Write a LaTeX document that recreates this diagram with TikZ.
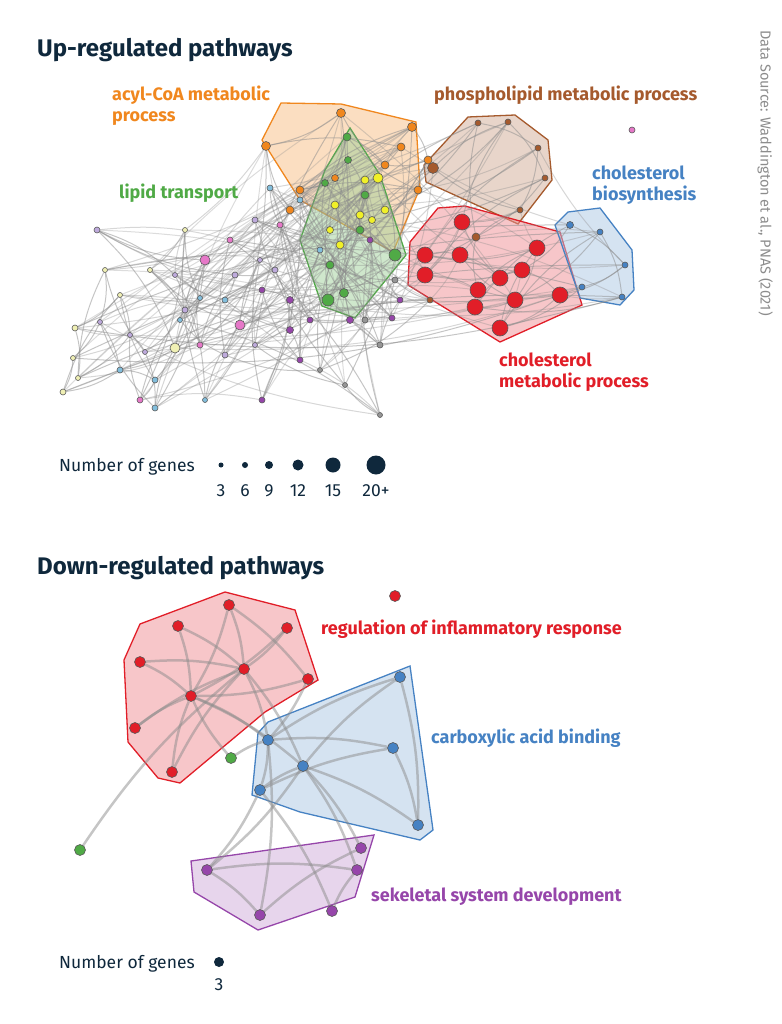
\documentclass[tikz,border=0pt]{standalone}
\usepackage{fontspec}
\setmainfont{Fira Sans}
\usetikzlibrary{calc}
\pgfdeclarelayer{hull}\pgfdeclarelayer{edges}
\pgfsetlayers{hull,edges,main}
\definecolor{navy}{RGB}{15,40,60}
\definecolor{cor}{RGB}{240,135,30}
\definecolor{cgr}{RGB}{80,170,70}
\definecolor{cbr}{RGB}{165,90,45}
\definecolor{crd}{RGB}{225,30,40}
\definecolor{cbl}{RGB}{70,130,195}
\definecolor{cpu}{RGB}{150,70,170}
\definecolor{cye}{RGB}{240,240,40}
\definecolor{cpy}{RGB}{240,240,180}
\definecolor{clb}{RGB}{130,190,220}
\definecolor{cli}{RGB}{190,170,220}
\definecolor{cpk}{RGB}{230,120,200}
\definecolor{cgy}{RGB}{150,150,150}
\tikzset{gn/.style={circle,draw=black!65,line width=.6pt,inner sep=0pt,minimum size=#1},
 ed/.style={draw=black!45,opacity=.5,line width=1pt},
 hl/.style={line width=1.3pt,fill opacity=.5,draw opacity=1},
 lab/.style={font=\bfseries\fontsize{18}{21}\selectfont,align=left,anchor=north west,inner sep=0pt},
 ttl/.style={font=\bfseries\fontsize{24}{28}\selectfont,text=navy,anchor=north west,inner sep=0pt},
 leg/.style={font=\fontsize{17.5}{20}\selectfont,text=navy,inner sep=0pt}}
\begin{document}
\begin{tikzpicture}[x=1pt,y=-1pt]
\useasboundingbox (0,0) rectangle (781,1024);
\node[ttl] (t1) at (37,38) {Up-regulated pathways};
\node[ttl] (t2) at (37,556) {Down-regulated pathways};
\node[rotate=-90,anchor=north west,text=black!45,font=\fontsize{14.5}{16}\selectfont,inner sep=0pt] (src) at (773,30) {Data Source: Waddington et al., PNAS (2021)};
% hulls
\begin{pgfonlayer}{hull}
\draw[hl,draw=cor,fill=cor!55] (262,140)--(281,103)--(341,104)--(416,122)--(420,188)--(393,252)--(300,200)--cycle;
\draw[hl,draw=cgr,fill=cgr!55] (325,170)--(350,128)--(380,175)--(406,255)--(355,318)--(322,306)--(300,240)--cycle;
\draw[hl,draw=cbr,fill=cbr!50] (424,165)--(468,117)--(515,115)--(548,140)--(552,180)--(518,224)--(470,202)--(426,182)--cycle;
\draw[hl,draw=crd,fill=crd!50] (410,242)--(438,208)--(465,206)--(560,232)--(582,305)--(500,342)--(408,285)--cycle;
\draw[hl,draw=cbl,fill=cbl!45] (555,225)--(568,212)--(600,208)--(632,250)--(634,290)--(620,305)--(580,298)--cycle;
\draw[hl,draw=crd,fill=crd!50] (124,660)--(140,624)--(225,592)--(295,610)--(318,680)--(265,712)--(180,783)--(158,778)--(128,742)--cycle;
\draw[hl,draw=cbl,fill=cbl!45] (258,733)--(268,722)--(410,666)--(433,830)--(420,840)--(300,812)--(252,795)--cycle;
\draw[hl,draw=cpu,fill=cpu!45] (191,861)--(374,835)--(355,897)--(258,930)--(194,892)--cycle;
\end{pgfonlayer}
% up network nodes
\foreach \x/\y/\c/\s [count=\k] in {
75/328/cpy/6,73/358/cpy/5,78/378/cpy/5,63/392/cpy/6,105/270/cpy/5,120/295/cpy/5,100/322/cli/5,130/335/cli/5,120/370/clb/6,145/352/cli/5,155/380/clb/6,155/408/clb/6,140/400/cpk/6,175/348/cpy/10,185/310/cli/6,200/298/clb/5,205/260/cpk/10,185/230/cpy/5,97/230/cli/6,150/270/cpy/5,175/275/cli/5,200/345/cpk/6,205/400/clb/5,235/275/cli/6,240/325/cpk/10,225/300/clb/6,260/260/cli/5,262/290/cpu/6,275/270/cli/6,290/300/cpu/7,290/330/cpu/7,262/400/cpu/6,300/360/cpu/6,310/320/cpu/6,320/250/clb/6,280/225/cpk/6,300/200/clb/6,270/188/clb/6,350/320/cpu/7,365/320/cgy/6,380/345/cgy/6,392/318/cpu/6,400/300/cpu/6,395/280/cgy/6,370/240/cpu/6,330/265/cpu/7,255/220/cli/6,230/240/cpk/6,430/300/cbr/6,380/415/cgy/5,320/370/cgy/5,345/385/cgy/5,225/355/cli/6,255/345/cli/5,180/320/clb/5,
341/113/cor/9,412/127/cor/9,266/146/cor/9,428/160/cor/8,401/147/cor/8,385/165/cor/8,300/190/cor/8,290/210/cor/8,418/190/cor/8,335/178/cor/7,
347/137/cgr/8,348/160/cgr/7,325/183/cgr/7,365/195/cgr/8,395/255/cgr/12,328/300/cgr/12,344/293/cgr/9,330/265/cgr/8,360/230/cgr/8,
378/178/cye/10,365/180/cye/8,335/205/cye/8,360/215/cye/8,340/245/cye/8,385/210/cye/8,372/220/cye/7,330/230/cye/7,
433/168/cbr/11,478/123/cbr/6,508/122/cbr/6,538/148/cbr/6,545/178/cbr/6,520/210/cbr/6,476/237/cbr/8,
462/222/crd/16,425/255/crd/16,425/275/crd/16,460/255/crd/16,478/290/crd/16,500/278/crd/16,537/248/crd/16,522/270/crd/16,515/300/crd/16,560/295/crd/16,475/307/crd/16,500/328/crd/16,
570/225/cbl/7,600/232/cbl/6,625/265/cbl/6,622/297/cbl/6,582/287/cbl/6,632/130/cpk/6}
  {\node[gn=\s,fill=\c] (u\k) at (\x,\y) {};}
\begin{pgfonlayer}{edges}
\foreach \i in {1,...,106}{
  \pgfmathtruncatemacro\a{mod(\i*7,106)+1}
  \pgfmathtruncatemacro\b{mod(\i*13+5,106)+1}
  \pgfmathtruncatemacro\c{mod(\i+1,106)+1}
  \pgfmathtruncatemacro\d{mod(\i+4,106)+1}
  \draw[ed] (u\i) to[bend left=12] (u\c);
  \draw[ed] (u\i) to[bend right=12] (u\d);
  \ifnum\i<55 \draw[ed,opacity=.35] (u\i) to[bend right=10] (u\a);\fi
  \ifnum\i>54 \draw[ed,opacity=.35] (u\i) to[bend left=8] (u\b);\fi
}
\foreach \i in {1,...,55}{\pgfmathtruncatemacro\a{mod(\i*3,20)+56}\draw[ed,opacity=.3] (u\i) to[bend left=6] (u\a);}
\end{pgfonlayer}
% labels up
\node[lab,text=cor] (l1) at (112,86) {acyl-CoA metabolic\\process};
\node[lab,text=cgr] (l2) at (119,184) {lipid transport};
\node[lab,text=cbr] (l3) at (434,86) {phospholipid metabolic process};
\node[lab,text=cbl] (l4) at (592,166) {cholesterol\\biosynthesis};
\node[lab,text=crd] (l5) at (499,353) {cholesterol\\metabolic process};
% legend
\node[leg,anchor=west] (lg) at (59,467) {Number of genes};
\foreach \x/\s/\t [count=\k] in {221/5/3,245/6/6,269/8/9,298/11/12,333/15/15,376/19/20+}{
 \node[circle,fill=navy,inner sep=0pt,minimum size=\s] (d\k) at (\x,465) {};
 \node[leg] (dn\k) at (\x,491) {\t};}
% down network
\foreach \n/\x/\y/\c in {r1/229/605/crd,r2/287/628/crd,r3/178/626/crd,r4/244/669/crd,r5/308/679/crd,r6/140/662/crd,r7/191/696/crd,r8/135/728/crd,r9/172/772/crd,b1/400/677/cbl,b2/393/748/cbl,b3/418/825/cbl,b4/303/766/cbl,b5/268/740/cbl,b6/260/790/cbl,g1/231/758/cgr,g2/80/850/cgr,p1/207/870/cpu,p2/260/915/cpu,p3/332/911/cpu,p4/357/870/cpu,p5/361/848/cpu,r0/395/596/crd}
  {\node[gn=11,fill=\c] (\n) at (\x,\y) {};}
\begin{pgfonlayer}{edges}
\foreach \a/\b in {r1/r7,r1/r4,r3/r4,r3/r7,r2/r7,r2/r4,r5/r7,r6/r4,r6/r7,r8/r4,r8/r7,r9/r4,r9/r7,r1/r5,r7/b5,r4/b5,r4/b4,r7/b4,r5/b5,b5/b1,b5/b2,b4/b3,b4/b1,b2/b3,b6/b2,b6/b4,b5/b6,b4/p1,b4/p4,b4/p5,b5/p2,b6/p1,b6/p3,p1/p4,p2/p5,p3/p4,g2/r4,g1/b5,g1/r7,p1/p2,b1/b3}
  {\draw[ed,line width=2.5pt,opacity=.5] (\a) to[bend left=8] (\b);}
\end{pgfonlayer}
\node[lab,text=crd] (l6) at (321,620) {regulation of inflammatory response};
\node[lab,text=cbl] (l7) at (431,729) {carboxylic acid binding};
\node[lab,text=cpu] (l8) at (371,888) {sekeletal system development};
\node[leg,anchor=west] (lg2) at (59,964) {Number of genes};
\node[circle,fill=navy,inner sep=0pt,minimum size=10] (dd) at (219,962) {};
\node[leg] (ddn) at (219,985) {3};
\end{tikzpicture}
\end{document}
